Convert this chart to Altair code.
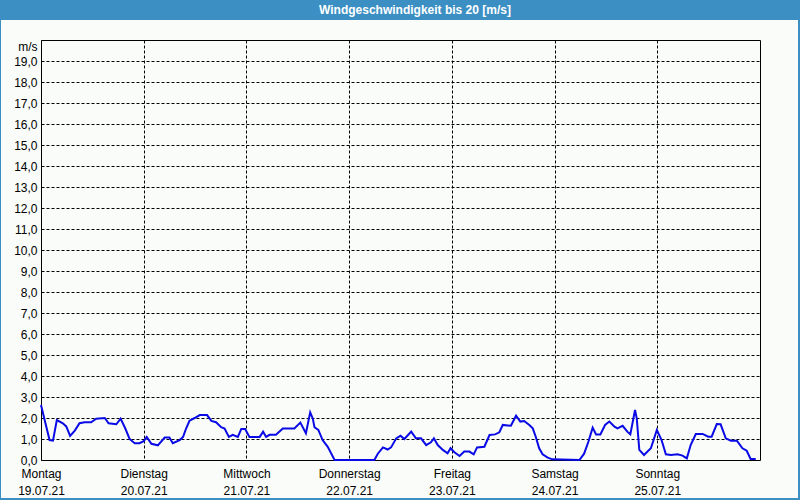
import altair as alt
import pandas as pd

# hours since Monday 19.07.21 00:00
hours = [0, 2, 2.8, 3.7, 5.1, 5.9, 6.8, 7.9, 9.0, 10.2, 11.7, 12.9, 14.9, 15.8, 17.6, 18.6,
         19.7, 20.7, 21.9, 23.0, 24.0, 24.7, 25.8, 27.3, 28.9, 30.0, 30.8, 32.4, 33.2, 33.9,
         34.7, 35.9, 37.1, 38.8, 39.8, 40.9, 42.1, 42.9, 43.9, 44.8, 46.0, 46.8, 47.7, 48.7,
         51.1, 51.9, 52.6, 53.4, 54.9, 56.5, 59.2, 60.6, 61.9, 62.9, 63.5, 63.9, 64.8, 65.8,
         67.0, 68.6, 77.9, 78.7, 79.9, 81.0, 81.8, 83.0, 84.0, 84.9, 86.5, 87.6, 88.8, 90.0,
         91.1, 91.8, 92.7, 93.9, 95.0, 95.7, 96.6, 97.8, 98.9, 100.1, 101.1, 101.9, 103.6,
         104.8, 106.1, 107.1, 107.9, 109.8, 111.0, 112.0, 112.9, 114.1, 114.9, 115.6, 116.4,
         117.2, 118.4, 119.5, 125.8, 126.9, 127.9, 128.9, 129.7, 130.7, 131.8, 132.8, 134.0,
         134.7, 135.9, 137.0, 137.7, 138.5, 138.8, 139.2, 139.8, 140.9, 142.5, 143.9, 145.0,
         146.0, 147.2, 148.7, 149.9, 150.9, 151.8, 153.0, 154.6, 155.9, 156.7, 157.9, 158.8,
         160.0, 161.2, 162.6, 163.9, 164.9, 165.8, 167.0]
speed = [2.62, 0.95, 0.92, 1.9, 1.75, 1.6, 1.15, 1.4, 1.75, 1.8, 1.8, 1.97, 2.0, 1.75, 1.7, 1.97,
         1.5, 1.0, 0.8, 0.8, 0.9, 1.1, 0.77, 0.7, 1.07, 1.07, 0.8, 0.95, 1.1, 1.5,
         1.87, 2.0, 2.14, 2.14, 1.86, 1.8, 1.56, 1.5, 1.1, 1.2, 1.1, 1.48, 1.48, 1.1,
         1.1, 1.35, 1.1, 1.2, 1.2, 1.5, 1.5, 1.78, 1.27, 2.27, 1.98, 1.56, 1.43, 0.95,
         0.63, 0.0, 0.0, 0.3, 0.6, 0.5, 0.6, 1.03, 1.16, 1.0, 1.35, 1.03, 1.03, 0.71,
         0.84, 1.03, 0.71, 0.48, 0.32, 0.56, 0.37, 0.19, 0.4, 0.4, 0.27, 0.6, 0.63,
         1.19, 1.22, 1.32, 1.67, 1.63, 2.11, 1.83, 1.86, 1.67, 1.51, 1.11, 0.56,
         0.27, 0.11, 0.03, 0.0, 0.3, 0.87, 1.54, 1.22, 1.22, 1.67, 1.83, 1.59,
         1.51, 1.63, 1.35, 1.22, 2.06, 2.38, 1.98, 0.48, 0.24, 0.56, 1.43, 0.95,
         0.27, 0.24, 0.27, 0.21, 0.08, 0.71, 1.24, 1.24, 1.11, 1.11, 1.71, 1.7,
         1.03, 0.92, 0.92, 0.56, 0.44, 0.05, 0.05]

days = ["Montag", "Dienstag", "Mittwoch", "Donnerstag", "Freitag", "Samstag", "Sonntag"]
dates = ["19.07.21", "20.07.21", "21.07.21", "22.07.21", "23.07.21", "24.07.21", "25.07.21"]
title_text = "Windgeschwindigkeit bis 20 [m/s]"

df = pd.DataFrame({"h": hours, "v": speed})

FONT = "Liberation Sans"
BLUE = "#3b8fc3"
BG = "#f9fcf9"

label_arr = "[" + ",".join(f"['{d}','{t}']" for d, t in zip(days, dates)) + "]"

x_axis = alt.Axis(
    values=[0, 24, 48, 72, 96, 120, 144],
    labelExpr=label_arr + "[round(datum.value/24)]",
    grid=True, gridColor="black", gridDash=[3, 2], gridOpacity=1, gridWidth=1,
    domain=False, ticks=False, labelFont=FONT, labelFontSize=12, labelColor="black",
    labelPadding=8, labelLineHeight=17, labelFlush=False, labelOverlap=False,
    labelAlign="center", labelBaseline="top", title=None,
)
y_axis = alt.Axis(
    values=list(range(0, 20)),
    labelExpr="replace(format(datum.value, '.1f'), '.', ',')",
    grid=True, gridColor="black", gridDash=[3, 2], gridOpacity=1, gridWidth=1,
    domain=False, ticks=False, labelFont=FONT, labelFontSize=12, labelColor="black",
    labelPadding=4, labelFlush=False, labelOverlap=False,
    title="m/s", titleAngle=0, titleX=-4, titleY=6, titleAlign="right",
    titleBaseline="middle", titleFont=FONT, titleFontSize=12, titleFontWeight="normal",
    titleColor="black",
)

line = alt.Chart(df).mark_line(color="#0a0ae6", strokeWidth=2, interpolate="linear").encode(
    x=alt.X("h:Q", scale=alt.Scale(domain=[0, 168], nice=False, zero=False), axis=x_axis),
    y=alt.Y("v:Q", scale=alt.Scale(domain=[0, 20], nice=False), axis=y_axis),
)

one = alt.Data(values=[{"t": title_text}])
bar = alt.Chart(one).mark_rect(color=BLUE).encode(
    x=alt.value(-41), x2=alt.value(759), y=alt.value(-40), y2=alt.value(-20))
left_b = alt.Chart(one).mark_rect(color=BLUE).encode(
    x=alt.value(-41), x2=alt.value(-40), y=alt.value(-20), y2=alt.value(460))
right_b = alt.Chart(one).mark_rect(color=BLUE).encode(
    x=alt.value(757), x2=alt.value(759), y=alt.value(-20), y2=alt.value(460))
bottom_b = alt.Chart(one).mark_rect(color=BLUE).encode(
    x=alt.value(-41), x2=alt.value(759), y=alt.value(458), y2=alt.value(460))
title = alt.Chart(one).mark_text(
    font=FONT, fontSize=12, fontWeight="bold", color="white", align="center", baseline="middle"
).encode(x=alt.value(374), y=alt.value(-30), text="t:N")

chart = alt.layer(bar, left_b, right_b, bottom_b, title, line).properties(
    width=719, height=420,
    autosize=alt.AutoSizeParams(type="none"),
    padding={"left": 41, "top": 40, "right": 40, "bottom": 40},
    background=BG,
).configure_view(stroke="black", strokeWidth=1, fill=BG)

chart.save("out.html", embed_options={"renderer": "svg", "actions": False})
